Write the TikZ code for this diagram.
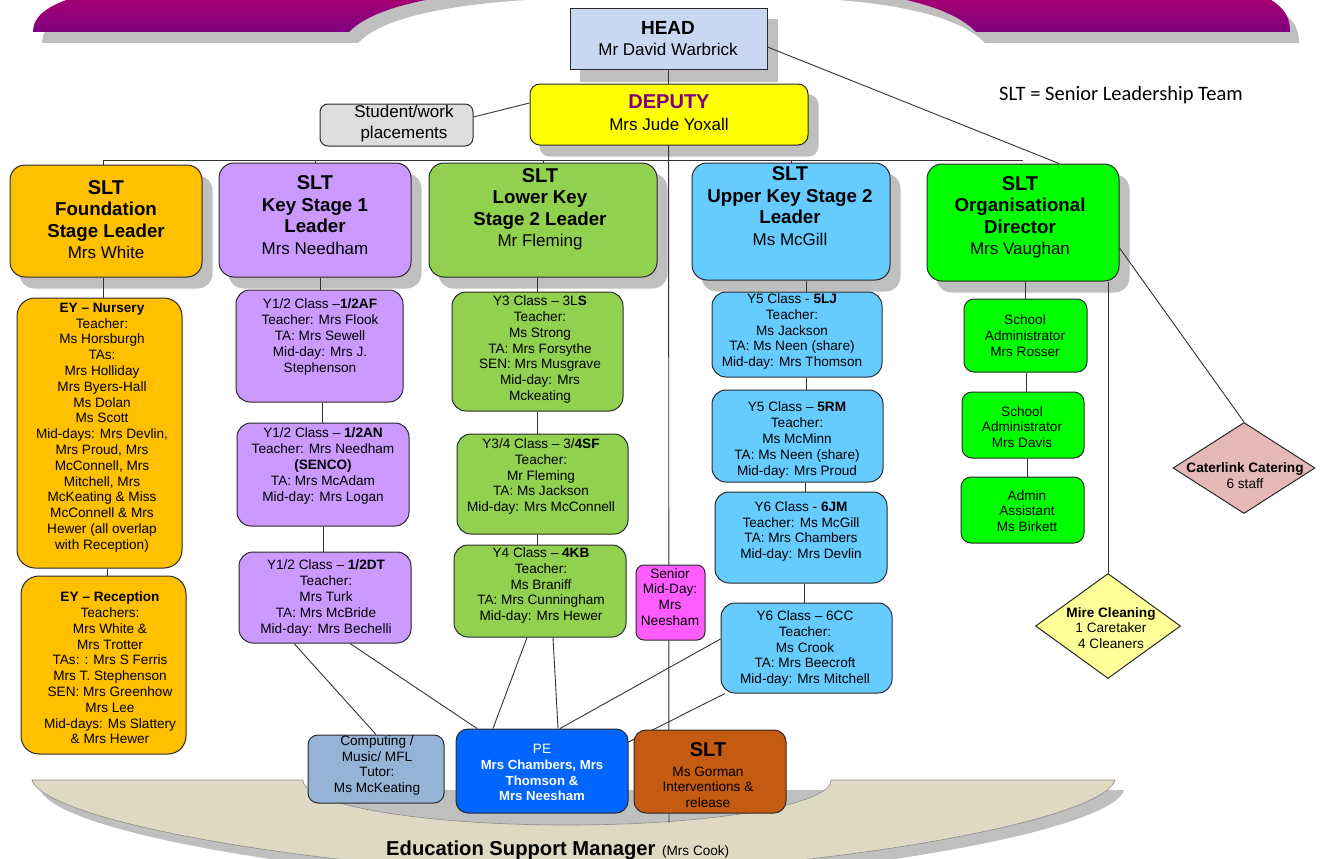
\documentclass[tikz,border=0pt]{standalone}
\usepackage{fontspec}
\setmainfont{Liberation Sans}
\newfontfamily\legendfont{Carlito}
\usetikzlibrary{shapes.geometric,calc,fit}
\pgfdeclarelayer{bannerL}
\pgfdeclarelayer{shadowL}
\pgfdeclarelayer{lineL}
\pgfsetlayers{bannerL,shadowL,lineL,main}
\definecolor{eyc}{HTML}{FFC000}
\definecolor{ksonec}{HTML}{CC99FF}
\definecolor{lksc}{HTML}{92D050}
\definecolor{uksc}{HTML}{66CCFF}
\definecolor{orgc}{HTML}{00FF00}
\definecolor{smdc}{HTML}{FF5CFF}
\definecolor{compc}{HTML}{95B3D7}
\definecolor{pec}{HTML}{0066FF}
\definecolor{gorc}{HTML}{C55A11}
\definecolor{catc}{HTML}{E6B8B7}
\definecolor{mirec}{HTML}{FFFF99}
\definecolor{studc}{HTML}{DDDDDD}
\definecolor{depfill}{HTML}{FFFF00}
\definecolor{deptext}{HTML}{800080}
\definecolor{headc}{HTML}{C9D7F2}
\definecolor{beigec}{HTML}{DDD9C3}
\definecolor{shadowc}{HTML}{BFBFBF}
\definecolor{bantop}{HTML}{B4006E}
\definecolor{banbot}{HTML}{7F007F}
\definecolor{linec}{HTML}{333333}
\definecolor{boxline}{HTML}{2A2A2A}
\newcommand\sltT{\bfseries\fontsize{20}{21.5}\selectfont}
\newcommand\sltB{\bfseries\fontsize{18.7}{21.5}\selectfont}
\newcommand\shad[2]{\begin{pgfonlayer}{shadowL}\fill[shadowc, rounded corners=#2] ($(#1.north west)+(10,11)$) rectangle ($(#1.south east)+(10,11)$);\end{pgfonlayer}}
\tikzset{
  bx/.style={draw=boxline, line width=1pt, inner sep=0pt, rounded corners=#1},
  bx/.default=12pt,
  ctext/.style={inner sep=0pt, align=center, font=\fontsize{13.6}{15.8}\selectfont},
  stext/.style={inner sep=0pt, align=center, font=\fontsize{17}{21.5}\selectfont},
  conn/.style={draw=linec, line width=0.9pt},
}
\begin{document}
\begin{tikzpicture}[x=1pt,y=-1pt]
\useasboundingbox (0,0) rectangle (1322,859);
% ---------- banners ----------
\begin{pgfonlayer}{bannerL}
\fill[shadowc, shift={(9,11)}] (33,32) .. controls (33,10) and (60,-2) .. (120,-14) -- (600,-14) .. controls (430,-12) and (370,10) .. (349,32) -- cycle;
\fill[shadowc, shift={(9,11)}] (976,32) -- (1290,32) .. controls (1290,12) and (1280,0) .. (1240,-14) -- (760,-14) .. controls (900,-12) and (955,10) .. (976,32) -- cycle;
\shade[top color=bantop, bottom color=banbot] (33,32) .. controls (33,10) and (60,-2) .. (120,-14) -- (600,-14) .. controls (430,-12) and (370,10) .. (349,32) -- cycle;
\shade[top color=bantop, bottom color=banbot] (976,32) -- (1290,32) .. controls (1290,12) and (1280,0) .. (1240,-14) -- (760,-14) .. controls (900,-12) and (955,10) .. (976,32) -- cycle;
\fill[shadowc, shift={(9,10)}] (32,780) -- (1115,780) .. controls (1107,810) and (947,850) .. (697,870) -- (450,870) .. controls (200,850) and (40,810) .. (32,780) -- cycle;
\filldraw[fill=beigec, draw=black!45, line width=0.6pt] (32,780) -- (303,780) .. controls (303,804.9) and (421.2,825) .. (567,825) .. controls (712.8,825) and (831,804.9) .. (831,780) -- (1115,780) .. controls (1107,810) and (947,850) .. (697,870) -- (450,870) .. controls (200,850) and (40,810) .. (32,780) -- cycle;
\end{pgfonlayer}
% ---------- top ----------
\node[draw=boxline, line width=1pt, inner sep=0pt, fill=headc, fit={(570,9) (767,70)}] (head) {};
\shad{head}{0pt}
\node[stext] (thead) at (668,38.5) {{\bfseries\fontsize{19}{21.5}\selectfont HEAD}\\Mr David Warbrick};
\node[bx=10pt, fill=depfill, fit={(530,84) (808,145)}] (dep) {};
\shad{dep}{10pt}
\node[stext] (tdep) at (669,112.5) {{\bfseries\fontsize{20}{21.5}\selectfont\color{deptext}DEPUTY}\\Mrs Jude Yoxall};
\node[bx=8pt, fill=studc, fit={(320,104) (473,146)}] (stud) {};
\node[inner sep=0pt, align=center, font=\fontsize{17}{20.5}\selectfont] (tstud) at (404,123.5) {Student/work\\placements};
\node[anchor=base west, inner sep=0pt, font=\legendfont\fontsize{20.5}{24}\selectfont] (legend) at (999,100) {SLT = Senior Leadership Team};
% ---------- SLT row ----------
\node[bx=15pt, fill=eyc, fit={(10,165) (202,277)}] (found) {};
\shad{found}{15pt}
\node[stext] (tfound) at (106,219.5) {{\sltT SLT}\\{\sltB Foundation}\\{\sltB Stage Leader}\\Mrs White};
\node[bx=15pt, fill=ksonec, fit={(219,163) (411,277)}] (ksone) {};
\shad{ksone}{15pt}
\node[stext] (tksone) at (315,215) {{\sltT SLT}\\{\sltB Key Stage 1}\\{\sltB Leader}\\Mrs Needham};
\node[bx=15pt, fill=lksc, fit={(429,163) (657,277)}] (lks) {};
\shad{lks}{15pt}
\node[stext] (tlks) at (540,209.5) {{\sltT SLT}\\{\sltB Lower Key}\\{\sltB Stage 2 Leader}\\Mr Fleming};
\node[bx=15pt, fill=uksc, fit={(692,163) (890,280)}] (uks) {};
\shad{uks}{15pt}
\node[stext] (tuks) at (790,206) {{\sltT SLT}\\{\sltB Upper Key Stage 2}\\{\sltB Leader}\\Ms McGill};
\node[bx=15pt, fill=orgc, fit={(927,164) (1119,281)}] (org) {};
\shad{org}{15pt}
\node[stext] (torg) at (1020,217.5) {{\sltT SLT}\\{\sltB Organisational}\\{\sltB Director}\\Mrs Vaughan};
% ---------- Foundation column ----------
\node[bx=18pt, fill=eyc, fit={(17,298) (182,568)}] (nur) {};
\node[ctext] (tnur) at (102,427.5) {{\bfseries EY – Nursery}\\Teacher:\\Ms Horsburgh\\TAs:\\Mrs Holliday\\Mrs Byers-Hall\\Ms Dolan\\Ms Scott\\Mid-days: Mrs Devlin,\\Mrs Proud, Mrs\\McConnell, Mrs\\Mitchell, Mrs\\McKeating \& Miss\\McConnell \& Mrs\\Hewer (all overlap\\with Reception)};
\node[bx=18pt, fill=eyc, fit={(21,576) (186,754)}] (rec) {};
\node[ctext] (trec) at (110,668) {{\bfseries EY – Reception}\\Teachers:\\Mrs White \&\\Mrs Trotter\\TAs: : Mrs S Ferris\\Mrs T. Stephenson\\SEN: Mrs Greenhow\\Mrs Lee\\Mid-days: Ms Slattery\\\& Mrs Hewer};
% ---------- KS1 column ----------
\node[bx=14pt, fill=ksonec, fit={(236,290) (403,402)}] (af) {};
\node[ctext] (taf) at (320,337) {Y1/2 Class –{\bfseries 1/2AF}\\Teacher: Mrs Flook\\TA: Mrs Sewell\\Mid-day: Mrs J.\\Stephenson};
\node[bx=14pt, fill=ksonec, fit={(237,423) (409,526)}] (an) {};
\node[ctext] (tan) at (323,466) {Y1/2 Class – {\bfseries 1/2AN}\\Teacher: Mrs Needham\\{\bfseries (SENCO)}\\TA: Mrs McAdam\\Mid-day: Mrs Logan};
\node[bx=14pt, fill=ksonec, fit={(239,552) (411,643)}] (dt) {};
\node[ctext] (tdt) at (326,598) {Y1/2 Class – {\bfseries 1/2DT}\\Teacher:\\Mrs Turk\\TA: Mrs McBride\\Mid-day: Mrs Bechelli};
% ---------- LKS2 column ----------
\node[bx=14pt, fill=lksc, fit={(452,292) (623,411)}] (ythree) {};
\node[ctext] (tythree) at (540,349.5) {Y3 Class – 3L{\bfseries S}\\Teacher:\\Ms Strong\\TA: Mrs Forsythe\\SEN: Mrs Musgrave\\Mid-day: Mrs\\Mckeating};
\node[bx=14pt, fill=lksc, fit={(457,434) (628,534)}] (ythf) {};
\node[ctext] (tythf) at (541,476.5) {Y3/4 Class – 3/{\bfseries 4SF}\\Teacher:\\Mr Fleming\\TA: Ms Jackson\\Mid-day: Mrs McConnell};
\node[bx=14pt, fill=lksc, fit={(454,545) (626,637)}] (yfour) {};
\node[ctext] (tyfour) at (541,585.5) {Y4 Class – {\bfseries 4KB}\\Teacher:\\Ms Braniff\\TA: Mrs Cunningham\\Mid-day: Mrs Hewer};
\node[bx=8pt, fill=smdc, fit={(636,565) (705,640)}] (smd) {};
\node[ctext] (tsmd) at (670,597) {Senior\\Mid-Day:\\Mrs\\Neesham};
% ---------- UKS2 column ----------
\node[bx=14pt, fill=uksc, fit={(712,292) (882,377)}] (lj) {};
\node[ctext] (tlj) at (792,331.5) {Y5 Class - {\bfseries 5LJ}\\Teacher:\\Ms Jackson\\TA: Ms Neen (share)\\Mid-day: Mrs Thomson};
\node[bx=14pt, fill=uksc, fit={(712,390) (883,482)}] (rm) {};
\node[ctext] (trm) at (797,440) {Y5 Class – {\bfseries 5RM}\\Teacher:\\Ms McMinn\\TA: Ms Neen (share)\\Mid-day: Mrs Proud};
\node[bx=14pt, fill=uksc, fit={(715,492) (887,583)}] (jm) {};
\node[ctext] (tjm) at (801,531.5) {Y6 Class - {\bfseries 6JM}\\Teacher: Ms McGill\\TA: Mrs Chambers\\Mid-day: Mrs Devlin};
\node[bx=14pt, fill=uksc, fit={(721,603) (892,693)}] (cc) {};
\node[ctext] (tcc) at (805,648.5) {Y6 Class – 6CC\\Teacher:\\Ms Crook\\TA: Mrs Beecroft\\Mid-day: Mrs Mitchell};
% ---------- Organisation column ----------
\node[bx=10pt, fill=orgc, fit={(964,299) (1087,372)}] (ros) {};
\node[ctext] (tros) at (1025,335.5) {School\\Administrator\\Mrs Rosser};
\node[bx=10pt, fill=orgc, fit={(962,392) (1084,458)}] (dav) {};
\node[ctext] (tdav) at (1022,427) {School\\Administrator\\Mrs Davis};
\node[bx=10pt, fill=orgc, fit={(961,477) (1084,543)}] (bir) {};
\node[ctext] (tbir) at (1027,511) {Admin\\Assistant\\Ms Birkett};
\node[diamond, draw=boxline, line width=1pt, fill=catc, inner sep=0pt, minimum width=142pt, minimum height=91pt] (cat) at (1244,468) {};
\node[ctext] (tcat) at (1245,475.5) {{\bfseries Caterlink Catering}\\6 staff};
\node[diamond, draw=boxline, line width=1pt, fill=mirec, inner sep=0pt, minimum width=145pt, minimum height=105pt] (mire) at (1108,626) {};
\node[ctext] (tmire) at (1111,628) {{\bfseries Mire Cleaning}\\1 Caretaker\\4 Cleaners};
% ---------- bottom row ----------
\node[bx=10pt, fill=compc, fit={(308,735) (444,803)}] (comp) {};
\node[ctext] (tcomp) at (377,765.5) {Computing /\\Music/ MFL\\Tutor:\\Ms McKeating};
\node[bx=12pt, fill=pec, fit={(456,729) (628,813)}] (pe) {};
\node[ctext, text=white] (tpe) at (542,772.5) {PE\\{\bfseries\fontsize{13.2}{15.8}\selectfont Mrs Chambers, Mrs}\\{\bfseries\fontsize{13.2}{15.8}\selectfont Thomson \&}\\{\bfseries\fontsize{13.2}{15.8}\selectfont Mrs Neesham}};
\node[bx=12pt, fill=gorc, fit={(634,730) (786,813)}] (gor) {};
\node[ctext] (tgor) at (708,775) {{\bfseries\fontsize{20}{21}\selectfont SLT}\\[4pt]Ms Gorman\\Interventions \&\\release};
\node[anchor=base west, inner sep=0pt] (esm) at (386,855) {{\bfseries\fontsize{20.2}{24}\selectfont Education Support Manager}\hspace{6.5pt}{\fontsize{13.6}{16}\selectfont(Mrs Cook)}};
% ---------- connectors ----------
\coordinate (busy) at (0,160);
\coordinate (busL) at (103,160);
\coordinate (spineend) at (669,823);
\begin{pgfonlayer}{lineL}
\draw[conn] (head.south) -- (spineend);
\draw[conn] (busL) -- (org.north |- busy);
\draw[conn] (busL) -- (found.north -| busL);
\draw[conn] (ksone.north |- busy) -- (ksone.north);
\draw[conn] (lks.north |- busy) -- (lks.north);
\draw[conn] (uks.north |- busy) -- (uks.north);
\draw[conn] (stud.east |- 0,117) -- (dep.west |- 0,103);
\draw[conn] (head.east |- 0,47) -- (org.north -| 1059,0);
\draw[conn] (found.south -| 103,0) -- (nur.north -| 103,0);
\draw[conn] (nur.south -| 107,0) -- (rec.north -| 107,0);
\draw[conn] (ksone.south -| 320,0) -- (af.north -| 320,0);
\draw[conn] (af.south -| 322,0) -- (an.north -| 322,0);
\draw[conn] (an.south -| 323,0) -- (dt.north -| 323,0);
\draw[conn] (dt.south -| 294,0) -- (comp.north);
\draw[conn] (dt.south -| 350,0) -- (pe.north -| 477,0);
\draw[conn] (lks.south -| 537,0) -- (ythree.north -| 537,0);
\draw[conn] (ythree.south -| 537,0) -- (ythf.north -| 537,0);
\draw[conn] (ythf.south -| 537,0) -- (yfour.north -| 537,0);
\draw[conn] (yfour.south -| 527,0) -- (pe.north -| 493,0);
\draw[conn] (yfour.south -| 553,0) -- (pe.north -| 558,0);
\draw[conn] (uks.south -| 806,0) -- (lj.north -| 806,0);
\draw[conn] (lj.south -| 806,0) -- (rm.north -| 806,0);
\draw[conn] (rm.south -| 805,0) -- (jm.north -| 805,0);
\draw[conn] (jm.south -| 804,0) -- (cc.north -| 804,0);
\draw[conn] (cc.west |- 0,639) -- (pe.north -| 560,0);
\draw[conn] (cc.south -| 725,0) -- (pe.east |- 0,742);
\draw[conn] (org.south -| 1025,0) -- (ros.north -| 1025,0);
\draw[conn] (ros.south -| 1026,0) -- (dav.north -| 1026,0);
\draw[conn] (dav.south -| 1027,0) -- (bir.north -| 1027,0);
\draw[conn] (mire.north |- org.south) -- (mire.north);
\draw[conn] (org.east |- 0,248) -- (cat.north);
\end{pgfonlayer}
\end{tikzpicture}
\end{document}
